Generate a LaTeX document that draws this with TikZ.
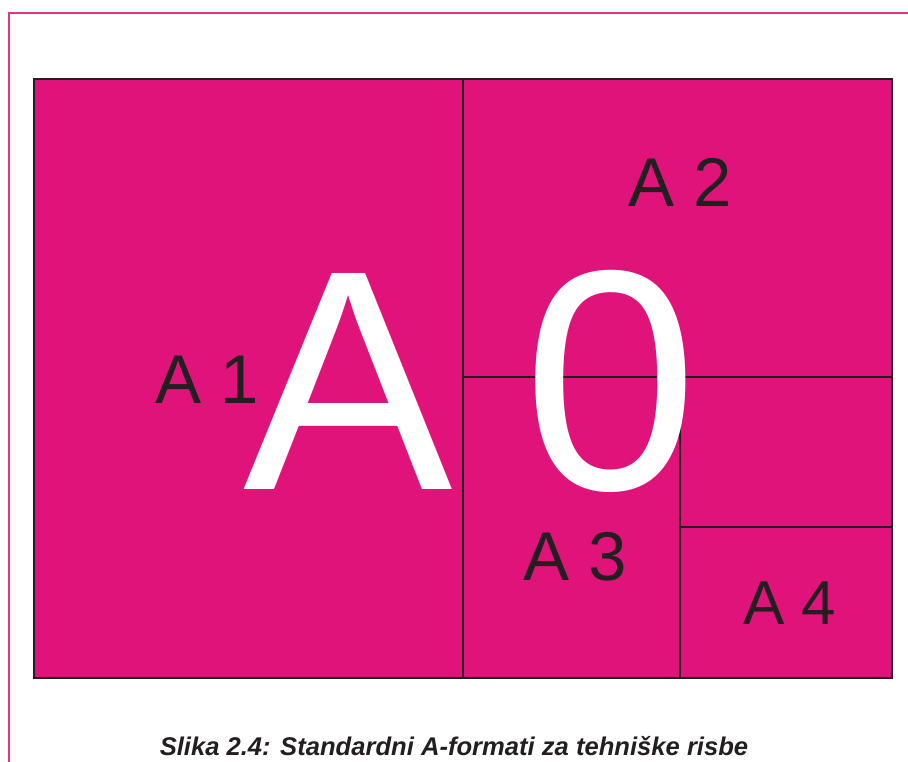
\documentclass[tikz,border=0pt]{standalone}
\usepackage{fontspec}
\setmainfont{Liberation Sans}
\definecolor{mag}{HTML}{E0137B}
\definecolor{framepink}{HTML}{E8308C}
\definecolor{ink}{HTML}{231F20}
\tikzset{
  sheetline/.style={draw=ink, line width=1.1pt},
  lbl/.style={anchor=base west, inner sep=0pt, text=ink, font=\fontsize{69}{69}\selectfont},
  big/.style={anchor=base west, inner sep=0pt, text=white, font=\fontsize{314}{314}\selectfont}
}
\begin{document}
\begin{tikzpicture}[x=1pt,y=-1pt]
\useasboundingbox (0,0) rectangle (908,762);
\fill[white] (0,0) rectangle (908,762);
% outer page frame
\draw[framepink, line width=2.8pt] (9,780) -- (9,13) -- (930,13);
% A0 sheet
\fill[mag] (34,79) rectangle (892,678);
\draw[sheetline] (463,79) -- (463,678);
\draw[sheetline] (463,377) -- (892,377);
\draw[sheetline] (680,377) -- (680,678);
\draw[sheetline] (680,527) -- (892,527);
% labels
\node[big] (bigA) at (243,489) {A};
\node[big] (bigZero) at (523,489) {0};
\node[lbl] (a1) at (155,403) {A 1};
\node[lbl] (a2) at (628,207) {A 2};
\node[lbl] (a3) at (523,580) {A 3};
\node[lbl, font=\fontsize{62}{62}\selectfont] (a4) at (743,624) {A 4};
\draw[line width=1.3pt, draw=ink] (34,79) rectangle (892,678);
% caption
\node[anchor=base, inner sep=0pt, text=ink, font=\fontsize{25.6}{25.6}\selectfont\bfseries\itshape] (cap) at (454,755) {Slika 2.4: Standardni A-formati za tehniške risbe};
\end{tikzpicture}
\end{document}
